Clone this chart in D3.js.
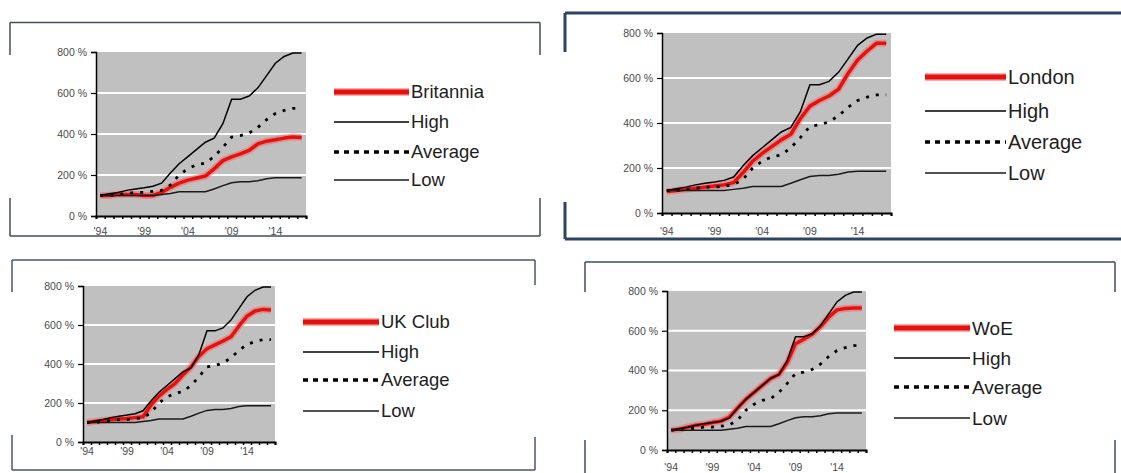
<!DOCTYPE html>
<html>
<head>
<meta charset="utf-8">
<script src="https://cdn.jsdelivr.net/npm/d3@7"></script>
<style>
  body { margin: 0; background: #fff; }
  text { font-family: "Liberation Sans", Arial, sans-serif; }
</style>
</head>
<body>
<svg width="1121" height="473"></svg>
<script>
// categories
var years = ['1994','1995','1996','1997','1998','1999','2000','2001','2002','2003','2004','2005',
             '2006','2007','2008','2009','2010','2011','2012','2013','2014','2015','2016','2017'];
var tickYears = ['1994','1999','2004','2009','2014'];
var tickLabels = ["'94","'99","'04","'09","'14"];
var yTicks = [0, 200, 400, 600, 800];

// shared benchmark series (%)
var high    = [100,108,115,125,132,138,145,160,210,255,290,325,360,380,450,570,570,585,625,685,745,778,795,795];
var average = [100,100,105,110,115,115,120,125,150,200,230,250,258,290,335,385,392,405,432,470,500,515,525,525];
var low     = [100,100,100,100,100,100,100,105,110,118,118,118,118,132,148,162,167,167,172,182,186,186,186,186];

// club series (%)
var britannia = [100,100,105,105,105,100,100,115,140,160,175,185,195,230,270,288,303,320,352,365,372,380,385,383];
var london    = [ 95,100,105,110,115,120,125,135,180,230,265,295,325,350,420,475,500,520,550,620,680,720,755,755];
var ukClub    = [100,105,110,115,118,120,125,130,190,235,270,300,345,385,440,478,498,518,540,595,645,672,680,677];
var woe       = [100,105,115,125,130,138,145,165,210,255,290,325,360,380,440,535,558,582,620,668,705,712,715,715];

var svg = d3.select('svg');

var panels = [
  { name: 'Britannia', values: britannia,
    frame: { x0: 10, x1: 540, y0: 22.5, y1: 236, left: [55, 198], right: [55, 198], color: '#454c5c', width: 1.5 },
    plot: { left: 96, right: 306, top: 52, bottom: 216, labelGap: 12 },
    legend: { x1: 334, x2: 409, ys: [92, 122, 152, 180], font: 18.5 } },
  { name: 'London', values: london,
    frame: { x0: 565, x1: 1130, y0: 13, y1: 239, left: [52, 202], right: null, color: '#2e4262', width: 3 },
    plot: { left: 662, right: 891, top: 33, bottom: 213, labelGap: 15 },
    legend: { x1: 925, x2: 1006, ys: [77, 111, 142, 173], font: 20 } },
  { name: 'UK Club', values: ukClub,
    frame: { x0: 12, x1: 535, y0: 260, y1: 470, left: [292, 435], right: [285, 437], color: '#4b5470', width: 1.5 },
    plot: { left: 83, right: 275, top: 286, bottom: 442, labelGap: 6 },
    legend: { x1: 303, x2: 379, ys: [322, 352, 380, 411], font: 18.5 } },
  { name: 'WoE', values: woe,
    frame: { x0: 585, x1: 1115, y0: 262, y1: 490, left: [292, 440], right: [292, 440], color: '#3f4a66', width: 1.5 },
    plot: { left: 667, right: 866, top: 291, bottom: 450, labelGap: 14 },
    legend: { x1: 894, x2: 970, ys: [328, 358, 387, 418], font: 19 } }
];

function drawFrame(f) {
  var g = svg.append('g').attr('stroke', f.color).attr('stroke-width', f.width).attr('fill', 'none');
  g.append('line').attr('x1', f.x0).attr('x2', f.x1).attr('y1', f.y0).attr('y2', f.y0);
  g.append('line').attr('x1', f.x0).attr('x2', f.x1).attr('y1', f.y1).attr('y2', f.y1);
  [[f.x0, f.left], [f.x1, f.right]].forEach(function(side) {
    if (!side[1]) return;
    g.append('line').attr('x1', side[0]).attr('x2', side[0]).attr('y1', f.y0).attr('y2', side[1][0]);
    g.append('line').attr('x1', side[0]).attr('x2', side[0]).attr('y1', side[1][1]).attr('y2', f.y1);
  });
}

function drawPanel(p) {
  drawFrame(p.frame);
  var pl = p.plot;
  var g = svg.append('g');

  var x = d3.scaleBand().domain(years).range([pl.left, pl.right]);
  var xEdge = d3.scaleLinear().domain([0, years.length]).range([pl.left, pl.right]);
  var y = d3.scaleLinear().domain([0, 800]).range([pl.bottom, pl.top]);

  g.append('rect')
    .attr('x', pl.left).attr('y', y(800))
    .attr('width', pl.right - pl.left).attr('height', y(0) - y(800))
    .attr('fill', '#c0c0c0');

  g.selectAll('.grid')
    .data([200, 400, 600])
    .enter()
    .append('line')
    .attr('x1', pl.left).attr('x2', pl.right)
    .attr('y1', d => y(d)).attr('y2', d => y(d))
    .attr('stroke', '#fff').attr('stroke-width', 2);

  var line = d3.line()
    .x((d, i) => x(years[i]) + x.bandwidth() / 2)
    .y(d => y(d));

  // club line with a soft halo like the scanned original
  g.append('path').attr('d', line(p.values)).attr('fill', 'none')
    .attr('stroke', '#f26a6a').attr('stroke-opacity', 0.55).attr('stroke-width', 7).attr('stroke-linejoin', 'round');
  g.append('path').attr('d', line(p.values)).attr('fill', 'none')
    .attr('stroke', '#e3120f').attr('stroke-width', 3.5).attr('stroke-linejoin', 'round');

  g.append('path').attr('d', line(high)).attr('fill', 'none')
    .attr('stroke', '#000').attr('stroke-width', 1.5);
  g.append('path').attr('d', line(average)).attr('fill', 'none')
    .attr('stroke', '#000').attr('stroke-width', 2.8).attr('stroke-dasharray', '3,7');
  g.append('path').attr('d', line(low)).attr('fill', 'none')
    .attr('stroke', '#1a1a1a').attr('stroke-width', 1.5);

  // y axis
  var yAxis = g.append('g')
    .attr('transform', `translate(${pl.left},0)`)
    .call(d3.axisLeft(y).tickValues(yTicks).tickSize(5).tickPadding(4).tickFormat(d => d + ' %'));
  yAxis.select('.domain').attr('stroke', '#000').attr('stroke-width', 1.5);
  yAxis.selectAll('.tick line').attr('stroke', '#000').attr('stroke-width', 1.2);
  yAxis.selectAll('text').attr('fill', '#4a4a4a').style('font-size', '10.5px')
    .style('font-family', '"Liberation Sans", Arial, sans-serif');

  // x axis: tick marks between categories
  var xTicks = g.append('g')
    .attr('transform', `translate(0,${pl.bottom})`)
    .call(d3.axisBottom(xEdge).tickValues(d3.range(years.length + 1)).tickSize(3).tickFormat(''));
  xTicks.select('.domain').attr('stroke', '#000').attr('stroke-width', 2);
  xTicks.selectAll('.tick line').attr('stroke', '#000').attr('stroke-width', 1.5);

  // x labels every five years
  var xLabels = g.append('g')
    .attr('transform', `translate(0,${pl.bottom})`)
    .call(d3.axisBottom(x).tickValues(tickYears).tickSize(0).tickPadding(pl.labelGap)
      .tickFormat((d, i) => tickLabels[i]));
  xLabels.select('.domain').remove();
  xLabels.selectAll('text').attr('fill', '#4a4a4a').style('font-size', '10.5px')
    .style('font-family', '"Liberation Sans", Arial, sans-serif');

  // legend
  var lg = p.legend;
  var items = [
    { label: p.name, stroke: '#e3120f', width: 5, dash: null },
    { label: 'High', stroke: '#000', width: 1.5, dash: null },
    { label: 'Average', stroke: '#000', width: 3.5, dash: '5,5' },
    { label: 'Low', stroke: '#1a1a1a', width: 1.5, dash: null }
  ];
  var leg = g.selectAll('.leg')
    .data(items)
    .enter()
    .append('g')
    .attr('transform', (d, i) => `translate(0,${lg.ys[i]})`);
  leg.filter((d, i) => i === 0).append('line')
    .attr('x1', lg.x1).attr('x2', lg.x2)
    .attr('stroke', '#f26a6a').attr('stroke-opacity', 0.55).attr('stroke-width', 8);
  leg.append('line')
    .attr('x1', lg.x1).attr('x2', lg.x2)
    .attr('stroke', d => d.stroke).attr('stroke-width', d => d.width)
    .attr('stroke-dasharray', d => d.dash);
  leg.append('text')
    .attr('x', lg.x2 + 2)
    .attr('dy', '0.35em')
    .attr('fill', '#1e1e1e')
    .style('font-size', lg.font + 'px')
    .text(d => d.label);
}

panels.forEach(drawPanel);
</script>
</body>
</html>
